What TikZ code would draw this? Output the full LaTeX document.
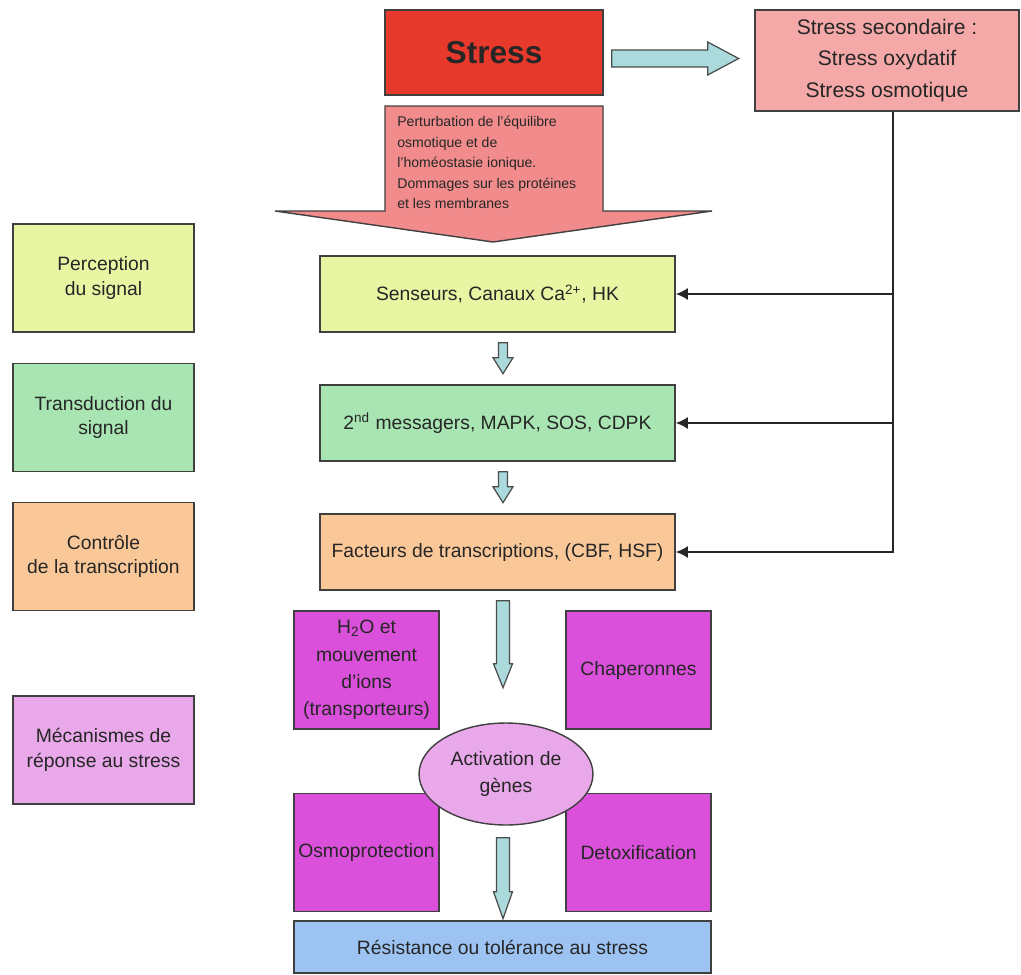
\documentclass[tikz,border=0pt]{standalone}
\usepackage{fontspec}
\setmainfont{Liberation Sans}
\usepackage{tikz}
\usetikzlibrary{arrows.meta, calc, shapes.geometric}

\definecolor{stressred}{RGB}{232,58,44}
\definecolor{secpink}{RGB}{245,168,168}
\definecolor{causepink}{RGB}{242,140,140}
\definecolor{arrowcyan}{RGB}{170,218,219}
\definecolor{perclime}{RGB}{232,245,163}
\definecolor{transgreen}{RGB}{169,229,179}
\definecolor{ctrlorange}{RGB}{250,200,152}
\definecolor{mecalilac}{RGB}{233,168,234}
\definecolor{effmagenta}{RGB}{218,80,218}
\definecolor{resblue}{RGB}{156,195,242}

\begin{document}
\begin{tikzpicture}[x=0.02cm, y=-0.02cm,
    every node/.style={text=black!85},
    phase/.style={draw=black!75, line width=0.8pt, minimum width=3.62cm, minimum height=2.16cm, align=center, font=\fontsize{11}{14}\selectfont},
    level/.style={draw=black!75, line width=0.8pt, minimum width=7.1cm, minimum height=1.52cm, align=center, font=\fontsize{11}{14}\selectfont},
    effect/.style={draw=black!75, line width=0.8pt, fill=effmagenta, minimum width=2.9cm, minimum height=2.36cm, align=center, inner sep=1pt, font=\fontsize{11}{15.5}\selectfont},
    fat/.style={draw=black!70, line width=0.7pt, fill=arrowcyan},
    feed/.style={-{Latex[length=7pt,width=7pt]}, line width=1.2pt, black!85},
]
  \useasboundingbox[fill=white] (0,0) rectangle (1021,974);

  % primary and secondary stress
  \node[draw=black!75, line width=0.8pt, fill=stressred, minimum width=4.36cm, minimum height=1.7cm, font=\fontsize{18}{20}\selectfont\bfseries] (stress) at (494,52.5) {Stress};
  \node[draw=black!75, line width=0.8pt, fill=secpink, minimum width=5.28cm, minimum height=2.02cm, align=center, font=\fontsize{12}{18}\selectfont] (sec) at (887,60.5) {Stress secondaire :\\Stress oxydatif\\Stress osmotique};
  \draw[fat] ($(stress.east)+(8,-2.5)$) -- ++(96,0) -- ++(0,-8) -- ++(31,16.5) -- ++(-31,16.5) -- ++(0,-8) -- ++(-96,0) -- cycle;

  % down arrow callout
  \draw[draw=black!75, line width=0.8pt, fill=causepink] (385,106) -- (603,106) -- (603,211) -- (712,211) -- (493,242) -- (275,211) -- (385,211) -- cycle;
  \node[anchor=north west, inner sep=0pt, align=left, font=\fontsize{8}{11.7}\selectfont] (cause) at (397,116) {Perturbation de l’équilibre\\osmotique et de\\l’homéostasie ionique.\\Dommages sur les protéines\\et les membranes};

  % stages on the left
  \node[phase, fill=perclime] (perc) at (103.5,278) {Perception\\du signal};
  \node[phase, fill=transgreen] (trans) at (103.5,417.5) {Transduction du\\signal};
  \node[phase, fill=ctrlorange] (ctrl) at (103.5,556.5) {Contrôle\\de la transcription};
  \node[phase, fill=mecalilac] (meca) at (103.5,750) {Mécanismes de\\réponse au stress};

  % signalling chain
  \node[level, fill=perclime] (sens) at (497.5,294) {Senseurs, Canaux Ca\textsuperscript{2+}, HK};
  \node[level, fill=transgreen] (msg) at (497.5,423) {2\textsuperscript{nd} messagers, MAPK, SOS, CDPK};
  \node[level, fill=ctrlorange] (fact) at (497.5,552) {Facteurs de transcriptions, (CBF, HSF)};
  \draw[fat] ($(sens.south)+(1,10)$) -- ++(9,0) -- ++(0,15) -- ++(5.5,0) -- ++(-10,16) -- ++(-10,-16) -- ++(5.5,0) -- cycle;
  \draw[fat] ($(msg.south)+(1,10)$) -- ++(9,0) -- ++(0,15) -- ++(5.5,0) -- ++(-10,16) -- ++(-10,-16) -- ++(5.5,0) -- cycle;

  % secondary stress feeds every level
  \coordinate (bus) at ($(sec.south)+(6,0)$);
  \draw[feed] (bus) |- (fact.east);
  \draw[feed] (bus |- sens.east) -- (sens.east);
  \draw[feed] (bus |- msg.east) -- (msg.east);

  % responses
  \node[effect] (h2o) at (366.5,670) {H\textsubscript{2}O et\\mouvement\\d’ions\\(transporteurs)};
  \node[effect] (chap) at (638.5,670) {Chaperonnes};
  \node[effect] (osmo) at (366.5,852.5) {Osmoprotection};
  \node[effect] (detox) at (638.5,852.5) {Detoxification};
  \node[ellipse, draw=black!75, line width=0.8pt, fill=mecalilac, minimum width=3.48cm, minimum height=2.04cm, inner sep=0pt, align=center, font=\fontsize{11}{15}\selectfont] (gene) at (506,774) {Activation de\\gènes};
  \draw[fat] ($(fact.south)+(-1,10)$) -- ++(13,0) -- ++(0,63) -- ++(3,0) -- ++(-9.5,24) -- ++(-9.5,-24) -- ++(3,0) -- cycle;
  \draw[fat] ($(gene.south)+(-9.5,12)$) -- ++(13,0) -- ++(0,54) -- ++(3,0) -- ++(-9.5,27) -- ++(-9.5,-27) -- ++(3,0) -- cycle;

  \node[draw=black!75, line width=0.8pt, fill=resblue, minimum width=8.34cm, minimum height=1.04cm, font=\fontsize{11}{14}\selectfont] (resist) at (502.5,947) {Résistance ou tolérance au stress};
\end{tikzpicture}
\end{document}
